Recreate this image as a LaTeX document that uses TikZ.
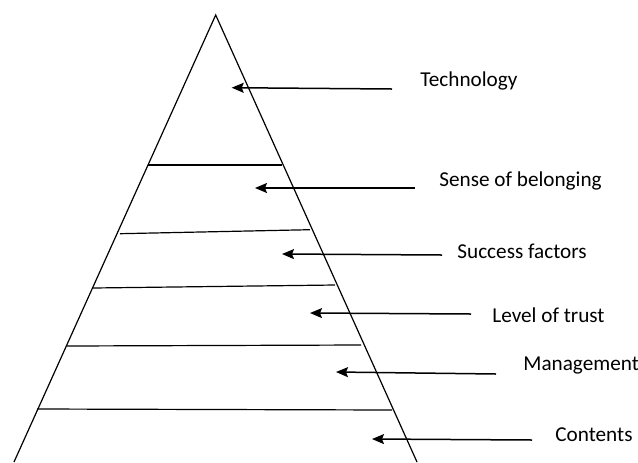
\documentclass[tikz,border=0pt]{standalone}
\usepackage{fontspec}
\setmainfont{Carlito}
\usetikzlibrary{arrows.meta}
\tikzstyle{arrow} = [-{Stealth[length=6pt,width=5pt,inset=1pt]},line width=0.75pt]
\tikzstyle{level} = [anchor=west,inner sep=0pt,font=\fontsize{10.6}{12}\selectfont]
\tikzstyle{edge} = [line width=0.6pt]

\begin{document}
\begin{tikzpicture}[x=0.5pt,y=-0.5pt]
        \useasboundingbox (0,0) rectangle (638,462);
        % pyramid
        \coordinate (top) at (215.7,15);
        \coordinate (bl) at (14,462);
        \coordinate (br) at (417,462);
        \draw[edge] (bl) -- (top) -- (br);

        \draw[edge] (148,165) -- (282,165);
        \draw[edge] (120,233.7) -- (310,229.7);
        \draw[edge] (93,288) -- (335,285);
        \draw[edge] (67,346) -- (361,345);
        \draw[edge] (37,409) -- (392,410);

        % labels
        \node[level] at (420,81) (tech) {Technology};
        \node[level] at (439,181) (sense) {Sense of belonging};
        \node[level] at (457,251) (success) {Success factors};
        \node[level] at (492,315) (trust) {Level of trust};
        \node[level] at (523,366) (mgmt) {Management};
        \node[level] at (555,435) (cont) {Contents};

        % arrows
        \coordinate (t1) at (392,89);    \coordinate (h1) at (231.7,87.7);
        \coordinate (t2) at (415,188);   \coordinate (h2) at (255,188);
        \coordinate (t3) at (442,255);   \coordinate (h3) at (282,254);
        \coordinate (t4) at (471,314);   \coordinate (h4) at (310,313);
        \coordinate (t5) at (496,374);   \coordinate (h5) at (336,372);
        \coordinate (t6) at (532,440);   \coordinate (h6) at (372,439);
        \draw[arrow] (t1) -- (h1);
        \draw[arrow] (t2) -- (h2);
        \draw[arrow] (t3) -- (h3);
        \draw[arrow] (t4) -- (h4);
        \draw[arrow] (t5) -- (h5);
        \draw[arrow] (t6) -- (h6);

    \end{tikzpicture}
\end{document}
